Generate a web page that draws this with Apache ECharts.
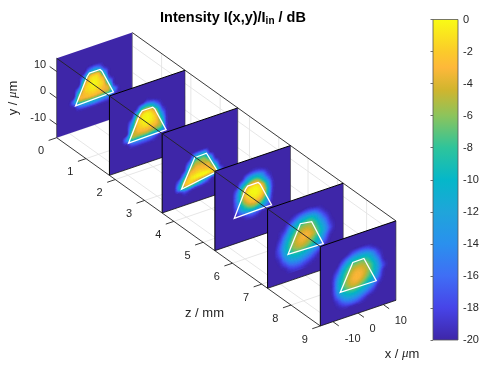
<!DOCTYPE html>
<html><head><meta charset="utf-8">
<style>html,body{margin:0;padding:0;background:#fff}#c{width:489px;height:371px}</style>
<script src="https://cdn.jsdelivr.net/npm/echarts@6/dist/echarts.min.js"></script>
</head><body><div id="c"></div>
<script>
const B = -20;
const sliceZ = [0, 1.8, 3.6, 5.4, 7.2, 9];
const zTicks = [0,1,2,3,4,5,6,7,8,9];
const xTicks = [-10,0,10];
const yTicks = [-10,0,10];
const cbTicks = [0,-2,-4,-6,-8,-10,-12,-14,-16,-18,-20];
// sampled positions (um) of the dB tables
const xGrid = [-12,-10,-8,-6,-4,-2,0,2,4,6,8,10,12];
const yGrid = [12,10,8,6,4,2,0,-2,-4,-6,-8,-10,-12];

const slice1 = [
[B,B,B,B,B,B,B,B,B,B,B,B,B],
[B,B,B,B,B,B,B,B,B,B,B,B,B],
[B,B,B,B,B,B,B,B,B,B,B,B,B],
[B,B,B,B,B,-15,-13,-15,B,B,B,B,B],
[B,B,B,B,-14,-4,-2.5,-4,-14,B,B,B,B],
[B,B,B,B,-6,-1.5,-0.3,-1.5,-6,B,B,B,B],
[B,B,B,-14,-3,-0.8,-0.1,-0.9,-3,-14,B,B,B],
[B,B,B,-6,-2.5,-1.5,-1.2,-1.8,-3,-6,B,B,B],
[B,B,-15,-5,-4,-3.5,-3.5,-4,-5,-6,-14,B,B],
[B,B,B,-15,-13,-12,-12,-13,-14,-15,-19,B,B],
[B,B,B,B,B,B,B,B,B,B,B,B,B],
[B,B,B,B,B,B,B,B,B,B,B,B,B],
[B,B,B,B,B,B,B,B,B,B,B,B,B]];
const slice2 = [
[B,B,B,B,B,B,B,B,B,B,B,B,B],
[B,B,B,B,B,B,B,B,B,B,B,B,B],
[B,B,B,B,B,B,-18,-19,B,B,B,B,B],
[B,B,B,B,-18,-10,-8,-10,-16,B,B,B,B],
[B,B,B,B,-9,-2.5,-1,-2.5,-8,-18,B,B,B],
[B,B,B,-15,-4,-0.6,0,-0.6,-4,-14,B,B,B],
[B,B,B,-11,-3,-1,-0.3,-1,-2.8,-10,B,B,B],
[B,B,B,-7,-3.5,-2.5,-2.2,-2.8,-4,-7,B,B,B],
[B,B,-14,-6.5,-6,-6,-6,-7,-8,-10,-19,B,B],
[B,B,B,-16,-15,-15,-15,-16,-18,B,B,B,B],
[B,B,B,B,B,B,B,B,B,B,B,B,B],
[B,B,B,B,B,B,B,B,B,B,B,B,B],
[B,B,B,B,B,B,B,B,B,B,B,B,B]];
const slice3 = [
[B,B,B,B,B,B,B,B,B,B,B,B,B],
[B,B,B,B,B,B,B,B,B,B,B,B,B],
[B,B,B,B,B,B,B,B,B,B,B,B,B],
[B,B,B,B,B,B,B,B,B,B,B,B,B],
[B,B,B,B,B,B,B,B,B,B,B,B,B],
[B,B,B,B,B,-13,-11,-11,B,B,B,B,B],
[B,B,B,B,-15,-7,-6,-6,-11,B,B,B,B],
[B,B,B,-19,-8,-4,-3.5,-4,-5,-16,B,B,B],
[B,B,B,-13,-3.5,-2,-1.5,-2,-2.8,-7,-19,B,B],
[B,B,-15,-5,-1.5,-0.5,-0.3,-0.5,-1.5,-4,-15,B,B],
[B,B,-11,-4.5,-3.5,-6,-9,-13,-17,B,B,B,B],
[B,B,B,-17,-18,B,B,B,B,B,B,B,B],
[B,B,B,B,B,B,B,B,B,B,B,B,B]];
const slice4 = [
[B,B,B,B,B,B,B,B,B,B,B,B,B],
[B,B,B,B,B,-19.5,-18.5,-18.5,-19.5,B,B,B,B],
[B,B,B,B,-19,-14,-11.5,-11.5,-14.5,-19,B,B,B],
[B,B,B,-19.5,-12.5,-8,-5,-5,-9.5,-16,B,B,B],
[B,B,B,-15.5,-7,-2.3,-0.7,-0.7,-3.5,-11,-19,B,B],
[B,B,B,-14,-6,-1,0,-0.1,-1.8,-8.5,-18.5,B,B],
[B,B,B,-14.5,-6.5,-2.8,-1.1,-0.9,-2.8,-9,-19,B,B],
[B,B,B,-16,-9.5,-5.5,-3.8,-3.8,-6.5,-12,-19.5,B,B],
[B,B,B,-18,-13.5,-10.5,-8.5,-9.5,-11.5,-15.5,B,B,B],
[B,B,B,B,-19.5,-17.5,-16.5,-17.5,-19.5,B,B,B,B],
[B,B,B,B,B,B,B,B,B,B,B,B,B],
[B,B,B,B,B,B,B,B,B,B,B,B,B],
[B,B,B,B,B,B,B,B,B,B,B,B,B]];
const slice5 = [
[B,B,B,B,B,B,B,B,B,B,B,B,B],
[B,B,B,B,B,B,-19.5,-19.5,B,B,B,B,B],
[B,B,B,-19.5,-18,-16,-15,-15,-16,-18.5,B,B,B],
[B,B,-19.5,-17,-13.5,-11,-9.5,-9,-11,-15,-18.5,B,B],
[B,-19.5,-18,-13,-9.5,-7,-6,-6,-8,-12,-16,-19.5,B],
[B,-19,-15,-10.5,-7,-4.8,-4,-4.5,-6.5,-10,-14,-18.5,B],
[B,-17.5,-13,-8.5,-5.3,-3.5,-3,-3.6,-5.5,-9,-13,-17.5,B],
[-19.5,-16.5,-11.5,-7.5,-5,-3.8,-4,-5.2,-7.5,-10.5,-15,-19,B],
[-19.5,-17,-12,-8.5,-6.3,-5.5,-6,-7.5,-10,-13,-17,B,B],
[B,-18.5,-14,-11,-9.5,-9.5,-10.5,-12,-14,-16.5,-19.5,B,B],
[B,-19.5,-17,-14,-13,-13,-14,-15.5,-17.5,-19.5,B,B,B],
[B,B,-19.5,-17.5,-16.5,-16.5,-17.5,-18.5,-19.5,B,B,B,B],
[B,B,B,-19.5,-19,-19,-19.5,B,B,B,B,B,B]];
const slice6 = [
[B,B,B,B,B,B,B,B,B,B,B,B,B],
[B,B,B,B,B,B,B,B,B,B,B,B,B],
[B,B,B,B,-19,-17,-16,-16,-17,-19,B,B,B],
[B,B,B,-17.5,-14,-11.5,-10.5,-10.5,-11.5,-14.5,-18.5,B,B],
[B,B,-18.5,-13.5,-9.5,-7.2,-6.5,-6.5,-8,-11.5,-16,B,B],
[B,-19.5,-16,-10.5,-7,-4.8,-4,-4.5,-6,-9,-13.5,-19,B],
[B,-19,-13.5,-9,-5.5,-3.6,-3,-3.6,-5.5,-8.5,-12.5,-17.5,B],
[B,-19,-12.5,-8,-5,-3.4,-3.1,-4.2,-6.5,-9,-13.5,-19,B],
[B,-19,-13,-8.5,-6,-4.6,-4.8,-6.5,-8.8,-11.5,-15.5,-19.5,B],
[B,-19.5,-15,-11,-9,-8,-8.5,-10,-12,-14.5,-18.5,B,B],
[B,B,-18,-14.5,-12.5,-12,-12.5,-14,-16,-18,B,B,B],
[B,B,-19.5,-18,-16.5,-16,-16.5,-18,-19.5,B,B,B,B],
[B,B,B,B,B,B,B,B,B,B,B,B,B]];
const sliceTables = [slice1,slice2,slice3,slice4,slice5,slice6];

// white trapezoids, um: BL, BR, TR, TL with slightly cut top corners
const trap1 = [[-7.5,-5.4],[7.5,-5],[3.0,4.3],[2.2,5.2],[-2,5.2],[-2.9,4.2]];
const trap2 = [[-7.4,-5.3],[7.5,-5],[3.0,4.3],[2.2,5.2],[-2,5.2],[-2.9,4.2]];
const trap3 = [[-7.3,-8.5],[7.0,-6.3],[2.6,1.9],[-2.1,1.7]];
const trap4 = [[-7.3,-5.3],[7.5,-5],[3.0,4.3],[2.2,5.2],[-2,5.2],[-2.9,4.2]];
const trap5 = [[-6.9,-4.8],[7.1,-5.3],[2.5,4.5],[-2,5.2]];
const trap6 = [[-7.1,-4.9],[7.2,-5.1],[2.3,4.9],[-2.1,4.8]];
const traps = [trap1,trap2,trap3,trap4,trap5,trap6];

const cbColors = ['#3e26a8','#4744e8','#3f6ef5','#2a90ee','#1fa5da','#05b7c9','#2ec49b','#8cc45c','#d0b52e','#feb83a','#fbcb2a','#f9fb15'];
const cbStops = [0,0.1,0.2,0.3,0.4,0.5,0.6,0.7,0.78,0.85,0.9,1];

function proj(x,y,z){
  return [56.7+(x+15)*2.52+z*29.29, 137.7-(x+15)*0.857-(y+15)*2.647+z*20.92];
}
function hex(c){return [1,3,5].map(i=>parseInt(c.substr(i,2),16));}
const rgbStops = cbColors.map(hex);
function colorOf(db){
  const t = Math.max(0,Math.min(1,(db+20)/20));
  let i=0; while(i<cbStops.length-2 && t>cbStops[i+1]) i++;
  const f=(t-cbStops[i])/(cbStops[i+1]-cbStops[i]);
  const a=rgbStops[i],b=rgbStops[i+1];
  return 'rgb('+a.map((v,k)=>Math.round(v+(b[k]-v)*f)).join(',')+')';
}
// smooth reading of the table between samples (like shading interp)
function cr(p0,p1,p2,p3,t){
  return 0.5*((2*p1)+(-p0+p2)*t+(2*p0-5*p1+4*p2-p3)*t*t+(-p0+3*p1-3*p2+p3)*t*t*t);
}
function sample(tb,r,c,u,v){
  const g=(i,j)=>tb[Math.max(0,Math.min(12,i))][Math.max(0,Math.min(12,j))];
  const row=k=>cr(g(r+k,c-1),g(r+k,c),g(r+k,c+1),g(r+k,c+2),u);
  return cr(row(-1),row(0),row(1),row(2),v);
}
const SUB=5;
function sliceSeries(si){
  const tb=sliceTables[si], z=sliceZ[si], cells=[];
  for(let r=0;r<12;r++)for(let c=0;c<12;c++){
    let any=false;
    for(let a=-1;a<=2;a++)for(let b=-1;b<=2;b++){
      const R=r+a,C=c+b;
      if(R>=0&&R<13&&C>=0&&C<13&&tb[R][C]>B) any=true;
    }
    if(any) cells.push([1,r,c]);
  }
  const data=[[0,0,0]].concat(cells,[[2,0,0]]);
  return {type:'custom',coordinateSystem:'cartesian2d',xAxisIndex:0,yAxisIndex:0,silent:true,
    animation:false,progressive:0,z:3,clip:false,data:data,
    renderItem:function(params,api){
      const kind=api.value(0),r=api.value(1),c=api.value(2);
      const pt=(x,y)=>api.coord(proj(x,y,z));
      if(kind===0){
        return {type:'polygon',shape:{points:[pt(-15,-15),pt(15,-15),pt(15,15),pt(-15,15)]},
          style:{fill:colorOf(-20),stroke:null}};
      }
      if(kind===1){
        const kids=[];
        const x0=xGrid[c],dx=xGrid[c+1]-x0,y0=yGrid[r],dy=yGrid[r+1]-y0;
        for(let i=0;i<SUB;i++)for(let j=0;j<SUB;j++){
          const db=sample(tb,r,c,(i+.5)/SUB,(j+.5)/SUB);
          if(db<=-19.8) continue;
          const xa=x0+dx*i/SUB,xb=x0+dx*(i+1)/SUB,ya=y0+dy*j/SUB,yb=y0+dy*(j+1)/SUB;
          const col=colorOf(db);
          kids.push({type:'polygon',shape:{points:[pt(xa,ya),pt(xb,ya),pt(xb,yb),pt(xa,yb)]},
            style:{fill:col,stroke:col,lineWidth:0.6}});
        }
        return {type:'group',children:kids};
      }
      const kids=[
        {type:'polyline',shape:{points:[pt(-15,-15),pt(-15,15)]},style:{stroke:si?'#000':'#333',lineWidth:si?1:0.7,fill:null}},
        {type:'polyline',shape:{points:[pt(15,-15),pt(15,15)]},style:{stroke:si?'#333':'#777',lineWidth:0.6,fill:null}},
        {type:'polygon',shape:{points:traps[si].map(p=>pt(p[0],p[1]))},style:{fill:null,stroke:'#fff',lineWidth:1.3}}
      ];
      if(si){
        kids.push({type:'polyline',shape:{points:[pt(-15,15),pt(15,15)]},style:{stroke:'#000',lineWidth:1,fill:null}});
        kids.push({type:'polyline',shape:{points:[pt(-15,-15),pt(15,-15)]},style:{stroke:'#111',lineWidth:0.8,fill:null}});
      }
      return {type:'group',children:kids};
    }};
}
// grid lines behind the slices: [x1,y1,z1,x2,y2,z2]
const backLines=[];
zTicks.forEach(z=>{backLines.push([-15,-15,z,15,-15,z,0]);backLines.push([15,-15,z,15,15,z,0]);});
xTicks.forEach(x=>backLines.push([x,-15,0,x,-15,9,0]));
yTicks.forEach(y=>backLines.push([15,y,0,15,y,9,0]));
backLines.push([15,15,0,15,15,9,1]);
backLines.push([15,-15,0,15,-15,9,1]);
function lineSeries(rows,z){
  return {type:'custom',coordinateSystem:'cartesian2d',xAxisIndex:0,yAxisIndex:0,silent:true,animation:false,z:z,clip:false,
    data:rows,renderItem:function(p,api){
      const a=api.coord(proj(api.value(0),api.value(1),api.value(2)));
      const b=api.coord(proj(api.value(3),api.value(4),api.value(5)));
      const dark=api.value(6);
      return {type:'line',shape:{x1:a[0],y1:a[1],x2:b[0],y2:b[1]},
        style:{stroke:dark?'#222':'#e3e3e3',lineWidth:dark?0.9:0.9}};
    }};
}
const frontLines=[[-15,15,0,-15,15,9,1],[-15,-15,0,-15,-15,9,1]];
zTicks.forEach(z=>frontLines.push([-15,-15,z,-18.2,-15,z,1]));
xTicks.forEach(x=>frontLines.push([x,-15,9,x,-15,9.2,1]));
yTicks.forEach(y=>frontLines.push([-15,y,0,-15,y,-0.24,1]));

// text anchored on the projected axes: [text,x,y,z,dx,dy,align]
const axisText=[];
zTicks.forEach(z=>axisText.push([String(z),-15,-15,z,-15.6,13.6,'center']));
xTicks.forEach(x=>axisText.push([String(x),x,-15,9,x<0?19.7:(x?17.5:14.5),x<0?17:16,'center']));
yTicks.forEach(y=>axisText.push([String(y),-15,y,0,-10.5,-6.8,'right']));
const textSeries={type:'custom',coordinateSystem:'cartesian2d',xAxisIndex:0,yAxisIndex:0,silent:true,animation:false,z:6,clip:false,
  data:axisText.map(t=>t.slice(1,6)),
  renderItem:function(p,api){
    const t=axisText[p.dataIndex];
    const a=api.coord(proj(t[1],t[2],t[3]));
    return {type:'text',x:a[0]+t[4],y:a[1]+t[5],style:{text:t[0],fill:'#262626',font:'11px "Liberation Sans"',align:t[6],verticalAlign:'middle'}};
  }};
const labelRich={u:{fontFamily:'"Liberation Serif"',fontStyle:'italic',fontSize:13,fill:'#262626',color:'#262626'},
                 t:{fontFamily:'"Liberation Sans"',fontSize:13,fill:'#262626',color:'#262626'}};
const axisNames=[
  {text:'z / mm',px:204.5,py:313,rot:0},
  {text:'{t|x / }{u|\u03bc}{t|m}',px:402,py:354,rot:0},
  {text:'{t|y / }{u|\u03bc}{t|m}',px:13,py:98,rot:Math.PI/2}
];
const nameSeries={type:'custom',coordinateSystem:'cartesian2d',xAxisIndex:0,yAxisIndex:0,silent:true,animation:false,z:6,clip:false,
  data:axisNames.map((n,i)=>[i]),
  renderItem:function(p,api){
    const n=axisNames[p.dataIndex];
    const a=api.coord([n.px,n.py]);
    return {type:'text',x:a[0],y:a[1],rotation:n.rot,style:{text:n.text,rich:labelRich,fill:'#262626',font:'13px "Liberation Sans"',align:'center',verticalAlign:'middle'}};
  }};
const colorbarSeries={type:'custom',coordinateSystem:'cartesian2d',xAxisIndex:1,yAxisIndex:1,silent:true,animation:false,z:1,
  data:[[0,-20,1,0]],
  renderItem:function(p,api){
    const a=api.coord([api.value(0),api.value(3)]),b=api.coord([api.value(2),api.value(1)]);
    return {type:'rect',shape:{x:a[0],y:a[1],width:b[0]-a[0],height:b[1]-a[1]},
      style:{fill:{type:'linear',x:0,y:1,x2:0,y2:0,colorStops:cbColors.map((c,i)=>({offset:cbStops[i],color:c}))}}};
  }};

const chart=echarts.init(document.getElementById('c'),null,{renderer:'canvas',width:489,height:371});
chart.setOption({
  animation:false,backgroundColor:'#fff',
  title:{text:'{a|Intensity I(x,y)/I}{b|in}{a| / dB}',left:228,top:4,textAlign:'center',
    textStyle:{rich:{a:{fontFamily:'"Liberation Sans"',fontWeight:'bold',fontSize:14.5,color:'#000'},
                     b:{fontFamily:'"Liberation Sans"',fontWeight:'bold',fontSize:10,color:'#000',padding:[7,0,0,0]}}}},
  grid:[{left:0,top:0,width:489,height:371,show:false},
        {left:433,top:19.5,width:25,height:320.5,show:true,borderColor:'#555',borderWidth:0.8,z:8,backgroundColor:'transparent'}],
  xAxis:[{type:'value',gridIndex:0,min:0,max:489,show:false},
         {type:'value',gridIndex:1,min:0,max:1,show:false}],
  yAxis:[{type:'value',gridIndex:0,min:0,max:371,inverse:true,show:false},
         {type:'value',gridIndex:1,min:-20,max:0,interval:2,position:'right',
          axisLine:{show:false},splitLine:{show:false},
          axisTick:{show:true,inside:true,length:2.5,lineStyle:{color:'#333',width:0.7}},
          axisLabel:{color:'#262626',fontFamily:'"Liberation Sans"',fontSize:11,margin:5,
            customValues:cbTicks}}],
  series:[lineSeries(backLines,2)]
    .concat(sliceZ.map((z,i)=>sliceSeries(i)))
    .concat([lineSeries(frontLines,5),textSeries,nameSeries,colorbarSeries])
});
</script></body></html>
